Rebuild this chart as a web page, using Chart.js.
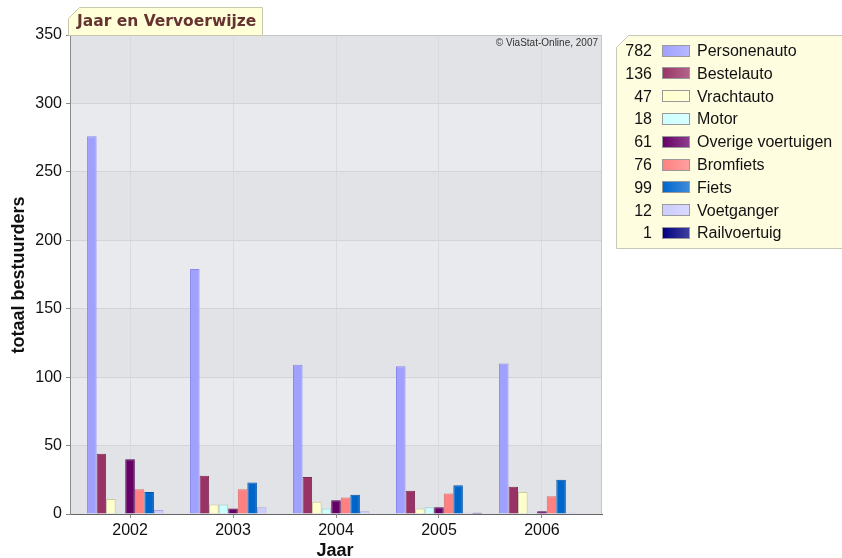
<!DOCTYPE html>
<html>
<head>
<meta charset="utf-8">
<script src="https://cdn.jsdelivr.net/npm/chart.js@4/dist/chart.umd.min.js"></script>
<style>
  html, body { margin: 0; padding: 0; background: #ffffff; }
  #wrap { position: relative; width: 842px; height: 558px; }
</style>
</head>
<body>
<div id="wrap"><canvas id="c" width="842" height="558"></canvas></div>
<script>
// Verkeersongevallen: bestuurders per jaar en vervoerwijze
const years = ['2002', '2003', '2004', '2005', '2006'];
const seriesNames = ['Personenauto', 'Bestelauto', 'Vrachtauto', 'Motor', 'Overige voertuigen',
                     'Bromfiets', 'Fiets', 'Voetganger', 'Railvoertuig'];
const personenauto = [276, 179, 109, 108, 110];
const bestelauto   = [44, 28, 27, 17, 20];
const vrachtauto   = [11, 7, 9, 4, 16];
const motor        = [1, 7, 4, 5, 1];
const overige      = [40, 4, 10, 5, 2];
const bromfiets    = [18, 18, 12, 15, 13];
const fiets        = [16, 23, 14, 21, 25];
const voetganger   = [3, 5, 2, 1, 1];
const railvoertuig = [0, 0, 0, 1, 0];
const yTicks = [0, 50, 100, 150, 200, 250, 300, 350];

const seriesValues = [personenauto, bestelauto, vrachtauto, motor, overige,
                      bromfiets, fiets, voetganger, railvoertuig];
const fillColors   = ['#a0a0ff', '#993366', '#ffffcc', '#ccffff', '#660066',
                      '#ff8080', '#0066cc', '#ccccff', '#000080'];
const edgeColors   = ['#8a8aee', '#7d2a54', '#c9c9a0', '#9ccaca', '#4d004d',
                      '#e06a6a', '#0052a8', '#a8a8dd', '#000060'];

const totals = seriesValues.map(arr => arr.reduce((a, b) => a + b, 0));

function lighten(hex, t) {
  const n = parseInt(hex.slice(1), 16);
  const r = (n >> 16) & 255, g = (n >> 8) & 255, b = n & 255;
  const m = c => Math.round(c + (255 - c) * t);
  return 'rgb(' + m(r) + ',' + m(g) + ',' + m(b) + ')';
}

function cutBox(ctx, x, y, w, h, cut, fill, stroke) {
  ctx.beginPath();
  ctx.moveTo(x + cut, y);
  ctx.lineTo(x + w, y);
  ctx.lineTo(x + w, y + h);
  ctx.lineTo(x, y + h);
  ctx.lineTo(x, y + cut);
  ctx.closePath();
  ctx.fillStyle = fill;
  ctx.fill();
  ctx.strokeStyle = stroke;
  ctx.lineWidth = 1;
  ctx.stroke();
}

const decor = {
  id: 'decor',
  beforeDraw(chart) {
    const { ctx, chartArea: a, scales: { y } } = chart;
    ctx.save();
    for (let i = 0; i < yTicks.length - 1; i++) {
      const top = y.getPixelForValue(yTicks[i + 1]);
      const bot = y.getPixelForValue(yTicks[i]);
      ctx.fillStyle = i % 2 === 0 ? '#e2e3e6' : '#e8eaed';
      ctx.fillRect(a.left, top, a.right - a.left, bot - top);
    }
    ctx.restore();
  },
  afterDraw(chart) {
    const { ctx, chartArea: a } = chart;
    ctx.save();

    // plot frame (top and right)
    ctx.strokeStyle = '#c4c6c9';
    ctx.lineWidth = 1;
    ctx.beginPath();
    ctx.moveTo(a.left, a.top + 0.5);
    ctx.lineTo(a.right - 0.5, a.top + 0.5);
    ctx.lineTo(a.right - 0.5, a.bottom);
    ctx.stroke();

    // copyright
    ctx.fillStyle = '#333333';
    ctx.font = '10px "Liberation Sans", Arial, sans-serif';
    ctx.textAlign = 'right';
    ctx.textBaseline = 'middle';
    ctx.fillText('\u00A9 ViaStat-Online, 2007', a.right - 4, a.top + 8);

    // title tab
    cutBox(ctx, 68.5, 7.5, 194, 28, 11, '#ffffd8', '#c8c8b0');
    ctx.fillStyle = '#663333';
    ctx.font = 'bold 15.5px "DejaVu Sans", Verdana, sans-serif';
    ctx.textAlign = 'left';
    ctx.textBaseline = 'middle';
    ctx.fillText('Jaar en Vervoerwijze', 77, 22);

    // axis titles
    ctx.fillStyle = '#111111';
    ctx.font = 'bold 18px "Liberation Sans", Arial, sans-serif';
    ctx.textAlign = 'center';
    ctx.textBaseline = 'middle';
    ctx.fillText('Jaar', 335, 551);
    ctx.save();
    ctx.translate(19, 275);
    ctx.rotate(-Math.PI / 2);
    ctx.fillText('totaal bestuurders', 0, 0);
    ctx.restore();

    // legend
    cutBox(ctx, 616.5, 35.5, 240, 213, 12, '#fffde0', '#c8c8b8');
    ctx.font = '16px "Liberation Sans", Arial, sans-serif';
    ctx.textBaseline = 'middle';
    for (let i = 0; i < seriesNames.length; i++) {
      const cy = 51.5 + i * 22.8;
      ctx.fillStyle = '#111111';
      ctx.textAlign = 'right';
      ctx.fillText(String(totals[i]), 652, cy);
      const sy = Math.round(cy - 7);
      const g = ctx.createLinearGradient(662, 0, 690, 0);
      g.addColorStop(0, fillColors[i]);
      g.addColorStop(1, lighten(fillColors[i], 0.25));
      ctx.fillStyle = g;
      ctx.fillRect(662, sy, 28, 12);
      ctx.strokeStyle = '#9a9a9a';
      ctx.strokeRect(662.5, sy + 0.5, 27, 11);
      ctx.fillStyle = '#111111';
      ctx.textAlign = 'left';
      ctx.fillText(seriesNames[i], 697, cy);
    }
    ctx.restore();
  }
};

const datasets = seriesNames.map((name, i) => ({
  label: name,
  data: seriesValues[i],
  backgroundColor: fillColors[i],
  borderColor: edgeColors[i],
  borderWidth: 1,
  categoryPercentage: 0.835,
  barPercentage: 1.0
}));

new Chart(document.getElementById('c'), {
  type: 'bar',
  data: { labels: years, datasets },
  plugins: [decor],
  options: {
    responsive: false,
    animation: false,
    devicePixelRatio: 1,
    layout: { padding: { left: 0, top: 35, right: 240, bottom: 0 } },
    plugins: { legend: { display: false }, tooltip: { enabled: false } },
    scales: {
      x: {
        offset: true,
        afterBuildTicks(scale) {
          // slightly wider margins at both ends of the category axis
          scale._startValue = -0.583;
          scale._valueRange = years.length - 1 + 2 * 0.583;
        },
        afterFit(scale) { scale.height = 44; },
        grid: { offset: false, color: '#d8dadd', tickColor: '#888888', tickLength: 4, drawTicks: true },
        border: { color: '#666666', width: 1 },
        ticks: { color: '#111111', font: { family: '"Liberation Sans", Arial, sans-serif', size: 16 }, padding: 3, maxRotation: 0 }
      },
      y: {
        min: 0, max: 350,
        afterBuildTicks(scale) { scale.ticks = yTicks.map(v => ({ value: v })); },
        afterFit(scale) { scale.width = 70; },
        grid: { color: '#d2d4d7', tickColor: '#888888', tickLength: 4 },
        border: { color: '#8a8a8a', width: 1 },
        ticks: { color: '#111111', font: { family: '"Liberation Sans", Arial, sans-serif', size: 16 }, padding: 4 }
      }
    }
  }
});
</script>
</body>
</html>
